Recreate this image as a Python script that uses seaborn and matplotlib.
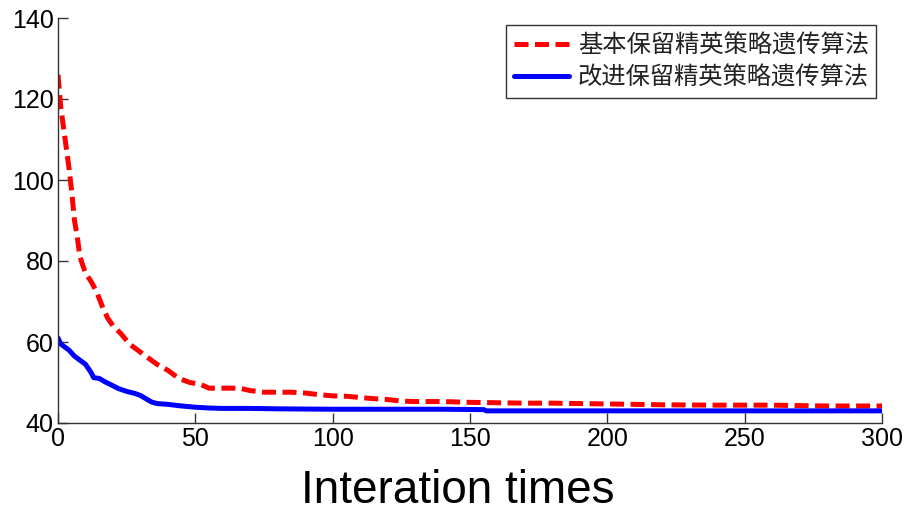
import matplotlib
matplotlib.use("Agg")
import matplotlib.pyplot as plt
import seaborn as sns
import pandas as pd
from matplotlib.lines import Line2D

# ---- data ----
red_x = [0, 1, 2, 3, 4, 5, 6, 7, 8, 10, 12, 14, 16, 18, 20, 23, 26, 30, 33, 36, 40, 44, 48, 52, 55,
         60, 66, 70, 75, 80, 85, 90, 95, 100, 105, 110, 115, 120, 125, 130, 140, 150, 160, 170, 180,
         190, 200, 220, 240, 260, 280, 300]
red_y = [126, 118, 113, 108, 103, 97, 90, 86, 81, 77, 75, 72.5, 69, 66, 64, 62, 59.5, 57.5, 56, 54.5,
         53, 51, 50, 49.5, 48.6, 48.6, 48.6, 48, 47.6, 47.6, 47.6, 47.4, 47, 46.7, 46.6, 46.3, 46, 45.8,
         45.4, 45.3, 45.3, 45.1, 45, 44.9, 44.9, 44.8, 44.7, 44.5, 44.4, 44.4, 44.2, 44.2]
blue_x = [0, 1, 2, 4, 6, 8, 10, 12, 13, 15, 17, 20, 22, 25, 28, 30, 32, 34, 36, 40, 45, 50, 55, 60,
          70, 80, 100, 120, 140, 155, 156, 200, 250, 300]
blue_y = [61, 59.5, 59, 58, 56.5, 55.5, 54.5, 52.5, 51.2, 51, 50.2, 49.2, 48.5, 47.8, 47.3, 46.8, 46,
          45.2, 44.8, 44.6, 44.2, 43.9, 43.7, 43.6, 43.6, 43.5, 43.4, 43.4, 43.4, 43.3, 43.0, 43.0,
          43.0, 43.0]
label_red = "基本保留精英策略遗传算法"
label_blue = "改进保留精英策略遗传算法"
x_ticks = [0, 50, 100, 150, 200, 250, 300]
y_ticks = [40, 60, 80, 100, 120, 140]
x_label = "Interation times"

df = pd.concat([
    pd.DataFrame({"x": red_x, "y": red_y, "s": label_red}),
    pd.DataFrame({"x": blue_x, "y": blue_y, "s": label_blue}),
])

sns.set_style("ticks")
plt.rcParams["font.family"] = ["Liberation Sans", "Noto Sans CJK SC", "DejaVu Sans"]

RED_DASH = (2.8, 1.3)

fig = plt.figure(figsize=(9.16, 5.15), dpi=100)
ax = fig.add_axes([58 / 916, 92 / 515, 824 / 916, 405 / 515])

sns.lineplot(data=df, x="x", y="y", hue="s", style="s",
             palette={label_red: "#ff0000", label_blue: "#0000ff"},
             dashes={label_red: RED_DASH, label_blue: ""},
             linewidth=3.6, ax=ax, legend=False, estimator=None, sort=False)

ax.set_xlim(0, 300)
ax.set_ylim(40, 140)
ax.set_xticks(x_ticks)
ax.set_yticks(y_ticks)
ax.tick_params(direction="in", length=7, width=1, labelsize=18, colors="#333333",
               labelcolor="black", pad=3)
for s in ["top", "right"]:
    ax.spines[s].set_visible(False)
for s in ["left", "bottom"]:
    ax.spines[s].set_color("#333333")
    ax.spines[s].set_linewidth(1)
ax.set_ylabel("")
ax.set_xlabel(x_label, fontsize=33, color="black")
ax.xaxis.set_label_coords(0.4854, -0.113)

handles = [Line2D([], [], color="#ff0000", lw=3.6, dashes=RED_DASH),
           Line2D([], [], color="#0000ff", lw=3.6)]
leg = ax.legend(handles, [label_red, label_blue], loc="upper right",
                bbox_to_anchor=(0.993, 0.983), frameon=True, fancybox=False,
                prop={"family": ["Noto Sans CJK SC", "DejaVu Sans"], "size": 17.5},
                handlelength=2.3, borderpad=0.3, labelspacing=0.25, handletextpad=0.35,
                borderaxespad=0)
leg.get_frame().set_edgecolor("black")
leg.get_frame().set_linewidth(1)
for t in leg.get_texts():
    t.set_color("#222222")

fig.savefig("out.png", dpi=100)
